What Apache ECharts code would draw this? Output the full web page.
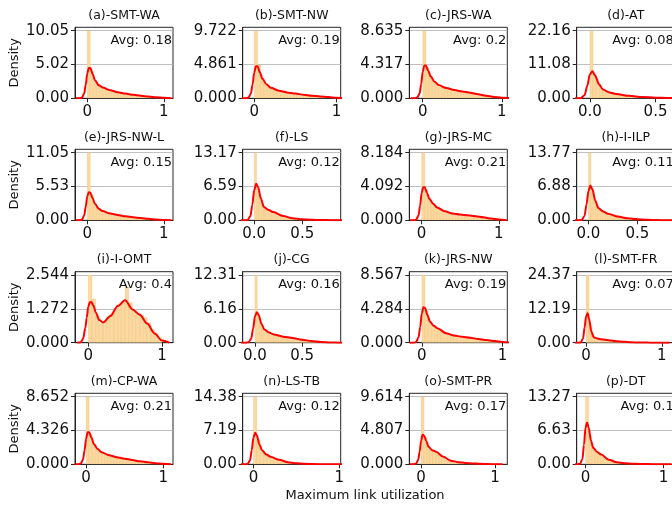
<!DOCTYPE html>
<html><head><meta charset="utf-8">
<script src="https://cdn.jsdelivr.net/npm/echarts@6/dist/echarts.min.js"></script>
<style>html,body{margin:0;padding:0;background:#fff}#c{width:672px;height:506px}</style>
</head><body><div id="c"></div>
<script>
const titles = ['(a)-SMT-WA','(b)-SMT-NW','(c)-JRS-WA','(d)-AT','(e)-JRS-NW-L','(f)-LS','(g)-JRS-MC','(h)-I-ILP','(i)-I-OMT','(j)-CG','(k)-JRS-NW','(l)-SMT-FR','(m)-CP-WA','(n)-LS-TB','(o)-SMT-PR','(p)-DT'];
const avgLabels = ['0.18','0.19','0.2','0.08','0.15','0.12','0.21','0.11','0.4','0.16','0.19','0.07','0.21','0.12','0.17','0.1'];
const yTickLabels = [
 ['0.00','5.02','10.05'],['0.000','4.861','9.722'],['0.000','4.317','8.635'],['0.00','11.08','22.16'],
 ['0.00','5.53','11.05'],['0.00','6.59','13.17'],['0.000','4.092','8.184'],['0.00','6.88','13.77'],
 ['0.000','1.272','2.544'],['0.00','6.16','12.31'],['0.000','4.284','8.567'],['0.00','12.19','24.37'],
 ['0.000','4.326','8.652'],['0.00','7.19','14.38'],['0.000','4.807','9.614'],['0.00','6.63','13.27']];
const xTickWide = [0, 1], xTickWideLabels = ['0', '1'];
const xTickNarrow = [0, 0.5], xTickNarrowLabels = ['0.0', '0.5'];
const narrowPanels = [3, 5, 7, 9];
const xRanges = [[-0.16,1.12],[-0.14,1.05],[-0.17,1.07],[-0.1,0.646],[-0.16,1.12],[-0.12,0.90],[-0.16,1.11],[-0.12,0.88],
 [-0.18,1.15],[-0.13,0.91],[-0.155,1.06],[-0.124,1.17],[-0.144,1.127],[-0.125,1.016],[-0.16,1.165],[-0.113,1.142]];

// KDE curves sampled at kdeX
const kdeX = [-0.15,-0.1,-0.07,-0.04,-0.02,0,0.02,0.04,0.07,0.1,0.15,0.2,0.3,0.4,0.5,0.6,0.7,0.8,0.9,1.0,1.1];
const kdeA = [0,0,0.1,0.7,2.0,3.7,4.5,4.5,3.6,2.7,1.95,1.6,1.2,0.9,0.7,0.52,0.38,0.26,0.15,0.07,0.01];
const kdeB = [0,0,0.1,0.7,2.0,3.7,4.6,4.6,3.7,2.8,2.0,1.5,1.1,0.85,0.68,0.52,0.38,0.27,0.17,0.09,0.02];
const kdeC = [0,0,0.1,0.6,1.8,3.4,4.2,4.2,3.5,2.8,2.1,1.7,1.3,1.06,0.88,0.72,0.52,0.34,0.18,0.08,0.02];
const kdeD = [0,0,0.05,1.0,4.0,7.8,8.9,7.5,4.6,2.9,1.9,1.4,0.8,0.45,0.22,0.1,0.04,0.01,0,0,0];
const kdeE = [0,0,0.1,0.8,2.2,3.9,4.6,4.5,3.6,2.7,1.9,1.5,1.1,0.85,0.65,0.5,0.36,0.24,0.14,0.06,0.01];
const kdeF = [0,0,0.05,0.8,3.0,5.9,7.1,6.5,4.2,2.6,2.0,1.6,0.85,0.4,0.2,0.1,0.05,0.02,0,0,0];
const kdeG = [0,0,0.1,0.6,1.8,3.3,4.0,4.0,3.3,2.6,2.0,1.55,1.1,0.82,0.7,0.6,0.48,0.36,0.22,0.1,0.02];
const kdeH = [0,0,0.05,0.9,3.2,6.0,7.1,6.3,4.0,2.5,1.8,1.35,0.75,0.4,0.2,0.1,0.05,0.02,0,0,0];
const kdeI = [0,0.02,0.15,0.55,0.95,1.35,1.52,1.53,1.4,1.15,0.85,0.76,1.0,1.38,1.6,1.25,1.05,0.72,0.35,0.08,0];
const kdeJ = [0,0,0.05,0.7,2.5,4.8,5.55,5.0,3.4,2.4,1.85,1.5,1.1,0.85,0.55,0.3,0.12,0.04,0,0,0];
const kdeK = [0,0,0.1,0.7,2.0,3.7,4.5,4.4,3.5,2.7,2.1,1.8,1.2,0.92,0.75,0.62,0.48,0.34,0.2,0.08,0.01];
const kdeL = [0,0,0.1,1.5,5.5,9.5,10.6,8.5,4.0,2.0,1.5,1.2,0.9,0.55,0.3,0.15,0.07,0.03,0.01,0,0];
const kdeM = [0,0,0.1,0.6,1.8,3.3,4.1,4.1,3.4,2.6,1.95,1.55,1.15,0.9,0.72,0.55,0.38,0.25,0.14,0.06,0.01];
const kdeN = [0,0,0.05,0.8,3.0,5.7,6.7,6.1,4.2,3.0,2.1,1.6,0.95,0.45,0.22,0.1,0.05,0.02,0,0,0];
const kdeO = [0,0,0.1,0.6,1.8,3.4,4.2,4.1,3.3,2.5,2.0,1.8,1.07,0.52,0.3,0.2,0.13,0.08,0.04,0.01,0];
const kdeP = [0,0,0.1,1.0,3.8,7.2,8.2,7.2,4.6,3.2,2.4,1.9,0.9,0.4,0.2,0.12,0.07,0.04,0.02,0.01,0];
const kdeAll = [kdeA,kdeB,kdeC,kdeD,kdeE,kdeF,kdeG,kdeH,kdeI,kdeJ,kdeK,kdeL,kdeM,kdeN,kdeO,kdeP];

// Histogram bin widths and heights (bins start at 0)
const binWidths = [0.04,0.04,0.04,0.025,0.04,0.025,0.04,0.025,0.05,0.025,0.04,0.04,0.04,0.04,0.04,0.04];
const histA = [10.05,4.1,2.7,2.05,1.7,1.5,1.35,1.2,1.08,0.96,0.86,0.78,0.7,0.63,0.56,0.49,0.43,0.38,0.33,0.28,0.24,0.19,0.15,0.11,0.07];
const histB = [9.722,4.8,2.8,2.1,1.65,1.4,1.22,1.08,0.96,0.88,0.81,0.74,0.68,0.62,0.55,0.49,0.43,0.38,0.33,0.29,0.25,0.2,0.16,0.12,0.08];
const histC = [8.635,3.9,2.8,2.2,1.8,1.6,1.45,1.3,1.2,1.1,1.02,0.95,0.88,0.82,0.75,0.68,0.6,0.52,0.45,0.37,0.3,0.23,0.16,0.11,0.07];
const histD = [22.16,8.0,5.0,3.2,2.4,1.95,1.7,1.5,1.32,1.18,1.03,0.9,0.8,0.7,0.6,0.52,0.44,0.37,0.3,0.24,0.18,0.14,0.1,0.07];
const histE = [11.05,4.2,2.7,2.05,1.7,1.5,1.35,1.2,1.08,0.96,0.86,0.78,0.7,0.63,0.56,0.49,0.43,0.38,0.33,0.28,0.24,0.19,0.15,0.11,0.07];
const histF = [13.17,6.7,4.6,3.0,2.35,2.05,1.85,1.65,1.45,1.25,1.05,0.9,0.75,0.6,0.48,0.38,0.3,0.24,0.19,0.15,0.12,0.1,0.08,0.06,0.05,0.04,0.03,0.02];
const histG = [8.184,3.7,2.6,2.05,1.65,1.4,1.22,1.08,0.95,0.84,0.77,0.72,0.7,0.66,0.62,0.58,0.53,0.48,0.44,0.38,0.33,0.27,0.2,0.14,0.09];
const histH = [13.77,6.5,4.4,2.9,2.2,1.85,1.6,1.4,1.22,1.05,0.9,0.78,0.68,0.58,0.48,0.4,0.33,0.27,0.22,0.17,0.13,0.1,0.07,0.05];
const histI = [2.544,1.65,1.0,0.72,0.8,0.95,1.1,1.3,1.45,1.5,2.1,1.5,1.25,1.1,1.05,0.95,0.75,0.5,0.35,0.2];
const histJ = [12.31,5.2,3.6,2.6,2.15,1.9,1.7,1.55,1.42,1.3,1.2,1.12,1.05,0.98,0.9,0.85,0.78,0.7,0.62,0.55,0.48,0.4,0.33,0.27,0.2,0.15,0.1,0.06];
const histK = [8.567,4.0,2.7,2.2,1.85,1.6,1.35,1.15,1.0,0.9,0.82,0.76,0.72,0.66,0.6,0.56,0.5,0.44,0.38,0.33,0.27,0.2,0.14,0.09,0.05];
const histL = [24.37,6.0,2.0,1.55,1.3,1.1,0.95,0.82,0.65,0.52,0.4,0.31,0.24,0.18,0.13,0.09,0.07,0.05,0.03,0.02,0.01,0.01];
const histM = [8.652,3.8,2.6,2.0,1.65,1.42,1.28,1.12,1.0,0.9,0.8,0.72,0.66,0.59,0.52,0.45,0.38,0.33,0.28,0.23,0.19,0.14,0.1,0.07,0.04];
const histN = [14.38,5.2,3.0,2.2,1.75,1.4,1.1,0.8,0.55,0.38,0.27,0.19,0.13,0.09,0.06,0.04,0.03,0.02,0.01,0.01];
const histO = [9.614,3.8,2.5,2.05,1.9,1.75,1.3,0.9,0.6,0.42,0.33,0.27,0.22,0.18,0.15,0.12,0.1,0.08,0.06,0.05,0.04,0.03,0.02,0.01,0.01];
const histP = [13.27,5.6,3.2,2.5,2.0,1.6,1.1,0.75,0.45,0.3,0.22,0.16,0.12,0.09,0.07,0.05,0.04,0.03,0.02,0.02,0.01,0.01,0.01];
const histAll = [histA,histB,histC,histD,histE,histF,histG,histH,histI,histJ,histK,histL,histM,histN,histO,histP];

const xLabel = 'Maximum link utilization';
const yLabel = 'Density';

const FONT = '"DejaVu Sans", sans-serif';
const colLeft = [75, 242.7, 409.3, 576.7];
const rowTop = [27.3, 149.3, 271.7, 393.3];
const W = 98, H = 71;
const grids = [], xAxes = [], yAxes = [], series = [], graphics = [];

function renderHist(params, api) {
  const p0 = api.coord([api.value(0), api.value(2)]);
  const p1 = api.coord([api.value(1), 0]);
  return {type: 'rect', shape: {x: p0[0], y: p0[1], width: p1[0] - p0[0], height: p1[1] - p0[1]},
    style: {fill: '#fad89f', stroke: 'rgba(238,170,70,0.35)', lineWidth: 0.5}};
}

for (let k = 0; k < 16; k++) {
  const r = Math.floor(k / 4), c = k % 4;
  const left = colLeft[c], top = rowTop[r];
  grids.push({left: left, top: top, width: W, height: H, show: true, borderColor: '#262626', borderWidth: 1,
    backgroundColor: 'transparent', containLabel: false, outerBoundsMode: 'none'});
  const yl = yTickLabels[k];
  const yTop = parseFloat(yl[2]);
  const yVals = [0, yTop / 2, yTop];
  const narrow = narrowPanels.indexOf(k) >= 0;
  const xt = narrow ? xTickNarrow : xTickWide;
  const xtl = narrow ? xTickNarrowLabels : xTickWideLabels;
  xAxes.push({gridIndex: k, type: 'value', min: xRanges[k][0], max: xRanges[k][1],
    axisLine: {show: true, onZero: false, lineStyle: {color: '#262626', width: 1}},
    axisTick: {show: true, length: 4, inside: false, customValues: xt, lineStyle: {color: '#262626', width: 1}},
    axisLabel: {customValues: xt, margin: 6, fontFamily: FONT, fontSize: 15, color: '#111',
      formatter: v => { let b = 0, d = 1e9; xt.forEach((t, i) => { if (Math.abs(t - v) < d) { d = Math.abs(t - v); b = i; } }); return xtl[b]; }},
    splitLine: {show: false}});
  yAxes.push({gridIndex: k, type: 'value', min: 0, max: yTop * 1.05,
    axisLine: {show: true, onZero: false, lineStyle: {color: '#262626', width: 1}},
    axisTick: {show: true, length: 4, inside: false, customValues: yVals, lineStyle: {color: '#262626', width: 1}},
    axisLabel: {customValues: yVals, margin: 6, fontFamily: FONT, fontSize: 15, color: '#111',
      formatter: v => { let b = 0, d = 1e9; yVals.forEach((t, i) => { if (Math.abs(t - v) < d) { d = Math.abs(t - v); b = i; } }); return yl[b]; }},
    splitLine: {show: true, lineStyle: {color: '#b0b0b0', width: 0.8}}});
  const bw = binWidths[k];
  const hist = histAll[k].map((h, i) => [i * bw, (i + 1) * bw, h]);
  series.push({type: 'custom', xAxisIndex: k, yAxisIndex: k, renderItem: renderHist, data: hist,
    encode: {x: [0, 1], y: 2}, clip: true, silent: true, z: 2});
  series.push({type: 'line', xAxisIndex: k, yAxisIndex: k, data: kdeX.map((x, i) => [x, kdeAll[k][i]]),
    showSymbol: false, smooth: 0.3, smoothMonotone: 'x', clip: true, silent: true, z: 3,
    lineStyle: {color: '#ff0000', width: 2}});
  graphics.push({type: 'text', x: left + W / 2, y: top - 12, silent: true,
    style: {text: titles[k], font: '12.5px ' + FONT, fill: '#111', align: 'center', verticalAlign: 'middle'}});
  graphics.push({type: 'text', x: left + W - 1, y: top + 13, silent: true, z: 10,
    style: {text: 'Avg: ' + avgLabels[k], font: '13px ' + FONT, fill: '#111', align: 'right', verticalAlign: 'middle'}});
  if (c === 0) {
    graphics.push({type: 'text', x: 15, y: top + H / 2, rotation: Math.PI / 2, silent: true,
      style: {text: yLabel, font: '13px ' + FONT, fill: '#111', align: 'center', verticalAlign: 'middle'}});
  }
}
graphics.push({type: 'text', x: 365, y: 495.5, silent: true,
  style: {text: xLabel, font: '13px ' + FONT, fill: '#111', align: 'center', verticalAlign: 'middle'}});

const chart = echarts.init(document.getElementById('c'), null, {renderer: 'canvas'});
chart.setOption({animation: false, backgroundColor: '#fff', grid: grids, xAxis: xAxes, yAxis: yAxes,
  series: series, graphic: graphics});
</script></body></html>
